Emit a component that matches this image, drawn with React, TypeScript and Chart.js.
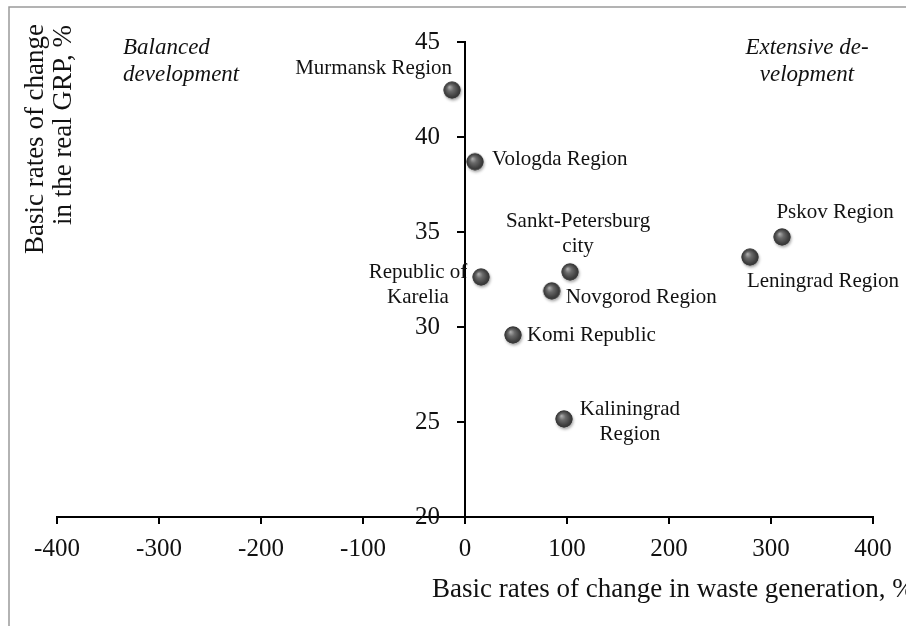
import React, { useEffect, useRef } from "react";
import { Chart, registerables } from "chart.js";

Chart.register(...registerables);

// ---- Data ----
const regions = [
  "Murmansk Region",
  "Vologda Region",
  "Republic of Karelia",
  "Sankt-Petersburg city",
  "Novgorod Region",
  "Komi Republic",
  "Kaliningrad Region",
  "Leningrad Region",
  "Pskov Region",
];
const regionLabelLines = [
  ["Murmansk Region"],
  ["Vologda Region"],
  ["Republic of", "Karelia"],
  ["Sankt-Petersburg", "city"],
  ["Novgorod Region"],
  ["Komi Republic"],
  ["Kaliningrad", "Region"],
  ["Leningrad Region"],
  ["Pskov Region"],
];
const wasteChange = [-12.7, 9.8, 15.7, 103, 85, 47, 97, 279.4, 310.8];
const grpChange = [42.47, 38.7, 32.63, 32.9, 31.9, 29.58, 25.16, 33.68, 34.74];

const xMin = -400;
const xMax = 400;
const xStep = 100;
const yMin = 20;
const yMax = 45;
const yStep = 5;

const xTitle = "Basic rates of change in waste generation, %";
const yTitleLines = ["Basic rates of change", "in the real GRP, %"];
const quadrantLeft = ["Balanced", "development"];
const quadrantRight = ["Extensive de-", "velopment"];

// ---- Label placement styles (pixel offsets from each point) ----
const labelPlacement: { dx: number; dy: number; align: CanvasTextAlign }[] = [
  { dx: 0, dy: -22, align: "right" },
  { dx: 17, dy: -2, align: "left" },
  { dx: -63, dy: -5, align: "center" },
  { dx: 8, dy: -50, align: "center" },
  { dx: 14, dy: 7, align: "left" },
  { dx: 14, dy: 1, align: "left" },
  { dx: 66, dy: -9, align: "center" },
  { dx: 73, dy: 24, align: "center" },
  { dx: 53, dy: -24, align: "center" },
];

const SERIF = '"Liberation Serif", "Times New Roman", serif';
const Y_TICK_LEN = 8;
const Y_TICK_PAD = 17;

function makeSphere(): HTMLCanvasElement {
  const c = document.createElement("canvas");
  c.width = 26;
  c.height = 26;
  const ctx = c.getContext("2d")!;
  const cx = 13,
    cy = 13,
    r = 8.5;
  ctx.save();
  ctx.shadowColor = "rgba(0,0,0,0.35)";
  ctx.shadowBlur = 3;
  ctx.shadowOffsetX = 1;
  ctx.shadowOffsetY = 2;
  ctx.beginPath();
  ctx.arc(cx, cy, r, 0, Math.PI * 2);
  ctx.fillStyle = "#444";
  ctx.fill();
  ctx.restore();
  const g = ctx.createRadialGradient(cx - 2.5, cy - 3, 0.5, cx, cy, r);
  g.addColorStop(0, "#a8a8a8");
  g.addColorStop(0.35, "#6a6a6a");
  g.addColorStop(0.8, "#404040");
  g.addColorStop(1, "#333");
  ctx.beginPath();
  ctx.arc(cx, cy, r, 0, Math.PI * 2);
  ctx.fillStyle = g;
  ctx.fill();
  return c;
}

const annotationPlugin = {
  id: "annotations",
  beforeDraw(chart: any) {
    const ctx = chart.ctx as CanvasRenderingContext2D;
    ctx.save();
    ctx.strokeStyle = "#9a9a9a";
    ctx.lineWidth = 1.5;
    ctx.beginPath();
    ctx.moveTo(9, 626);
    ctx.lineTo(9, 7);
    ctx.lineTo(906, 7);
    ctx.stroke();
    ctx.restore();
  },
  afterDraw(chart: any) {
    const ctx = chart.ctx as CanvasRenderingContext2D;
    const xs = chart.scales.x;
    const ys = chart.scales.y;
    ctx.save();
    ctx.fillStyle = "#111";

    // y tick labels (left of the crossing y axis)
    const axisX = xs.getPixelForValue(0);
    ctx.font = `25px ${SERIF}`;
    ctx.textAlign = "right";
    ctx.textBaseline = "middle";
    ys.ticks.forEach((t: any) => {
      ctx.fillText(String(t.value), axisX - Y_TICK_LEN - Y_TICK_PAD, ys.getPixelForValue(t.value));
    });
    // y tick marks
    ctx.strokeStyle = "#000";
    ctx.lineWidth = 2;
    ys.ticks.forEach((t: any) => {
      const py = Math.round(ys.getPixelForValue(t.value));
      ctx.beginPath();
      ctx.moveTo(axisX - Y_TICK_LEN, py);
      ctx.lineTo(axisX, py);
      ctx.stroke();
    });

    ctx.textBaseline = "middle";
    ctx.font = `21px ${SERIF}`;
    regionLabelLines.forEach((lines, i) => {
      const px = xs.getPixelForValue(wasteChange[i]);
      const py = ys.getPixelForValue(grpChange[i]);
      const p = labelPlacement[i];
      ctx.textAlign = p.align;
      lines.forEach((ln, j) => {
        ctx.fillText(ln, px + p.dx, py + p.dy + j * 25);
      });
    });

    // quadrant labels
    ctx.font = `italic 23px ${SERIF}`;
    ctx.textAlign = "left";
    quadrantLeft.forEach((ln, j) => ctx.fillText(ln, 123, 48 + j * 27));
    ctx.textAlign = "center";
    quadrantRight.forEach((ln, j) => ctx.fillText(ln, 807, 48 + j * 27));

    // axis titles
    ctx.font = `27px ${SERIF}`;
    ctx.textBaseline = "alphabetic";
    ctx.textAlign = "left";
    ctx.fillText(xTitle, 432, 597);

    ctx.textAlign = "center";
    const yBase = [43, 71];
    const yCenter = [139, 125];
    yTitleLines.forEach((ln, j) => {
      ctx.save();
      ctx.translate(yBase[j], yCenter[j]);
      ctx.rotate(-Math.PI / 2);
      ctx.fillText(ln, 0, 0);
      ctx.restore();
    });
    ctx.restore();
  },
};

export default function App() {
  const ref = useRef<HTMLCanvasElement>(null);
  useEffect(() => {
    document.body.style.margin = "0";
    const sphere = makeSphere();
    const chart = new Chart(ref.current!, {
      type: "scatter",
      data: {
        datasets: [
          {
            label: "Regions",
            data: wasteChange.map((x, i) => ({ x, y: grpChange[i] })),
            pointStyle: sphere as any,
            pointRadius: 9,
            pointHoverRadius: 9,
          },
        ],
      },
      options: {
        animation: false,
        responsive: true,
        maintainAspectRatio: false,
        layout: { padding: { left: 57, right: 33, top: 42, bottom: 64 } },
        plugins: {
          legend: { display: false },
          tooltip: { enabled: false },
        },
        scales: {
          x: {
            type: "linear",
            position: "bottom",
            min: xMin,
            max: xMax,
            afterFit: (s: any) => {
              s.height = 45;
            },
            ticks: {
              stepSize: xStep,
              color: "#111",
              font: { family: SERIF, size: 25 },
              padding: 10,
              maxRotation: 0,
              callback: (v: any) => String(v),
            },
            grid: {
              drawOnChartArea: false,
              drawTicks: true,
              tickLength: 7,
              color: "#000",
              lineWidth: 2,
            },
            border: { display: true, color: "#000", width: 2 },
          },
          y: {
            type: "linear",
            position: { x: 0 } as any,
            min: yMin,
            max: yMax,
            ticks: {
              stepSize: yStep,
              display: false,
            },
            grid: {
              display: false,
            },
            border: { display: true, color: "#000", width: 2 },
          },
        },
      },
      plugins: [annotationPlugin],
    });
    return () => chart.destroy();
  }, []);
  return (
    <div style={{ position: "fixed", left: 0, top: 0, width: 906, height: 626, background: "#fff" }}>
      <canvas ref={ref} />
    </div>
  );
}
